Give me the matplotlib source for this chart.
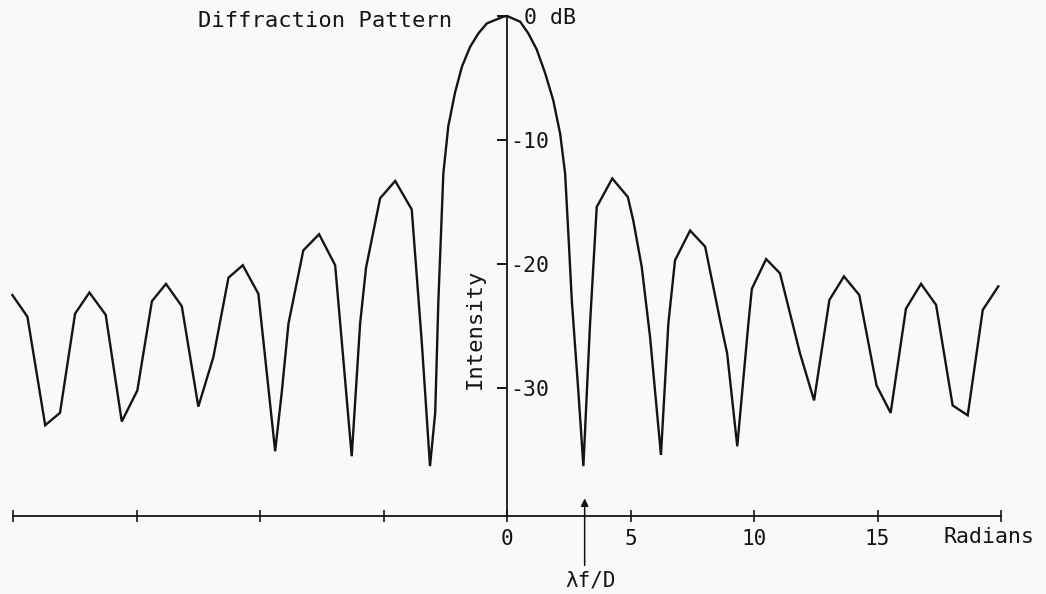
import numpy as np
import matplotlib
matplotlib.use("Agg")
import matplotlib.pyplot as plt

# values (radians, dB)
angle_rad = [
    -20.03, -19.42, -18.70, -18.10, -17.49, -16.91, -16.25, -15.60, -14.97,
    -14.38, -13.81, -13.17, -12.50, -11.89, -11.28, -10.70, -10.07, -9.39,
    -9.12, -8.85, -8.25, -7.61, -6.96, -6.29, -5.95, -5.71, -5.14, -4.53,
    -3.86, -3.45, -3.12, -2.91, -2.78, -2.58, -2.38, -2.11, -1.83, -1.50,
    -1.16, -0.82, -0.15, 0.00, 0.53, 0.86, 1.20, 1.54, 1.87, 2.15, 2.35,
    2.48, 2.62, 2.89, 3.09, 3.36, 3.63, 4.26, 4.89, 5.11, 5.45, 5.79, 6.23,
    6.53, 6.80, 7.41, 8.02, 8.62, 8.91, 9.32, 9.77, 9.91, 10.49, 11.05,
    11.86, 12.43, 13.05, 13.64, 14.26, 14.96, 15.53, 16.15, 16.76, 17.37,
    18.04, 18.65, 19.26, 19.89,
]
intensity_db = [
    -22.5, -24.25, -33.0, -32.0, -24.0, -22.3, -24.1, -32.7, -30.2,
    -23.0, -21.6, -23.4, -31.5, -27.5, -21.1, -20.1, -22.4, -35.1,
    -30.3, -24.8, -18.9, -17.6, -20.1, -35.5, -24.8, -20.3, -14.7, -13.3,
    -15.6, -26.4, -36.3, -32.0, -22.9, -12.7, -8.9, -6.2, -4.1, -2.5,
    -1.4, -0.6, -0.05, 0.0, -0.46, -1.4, -2.7, -4.6, -6.8, -9.5, -12.7,
    -17.5, -22.9, -30.4, -36.3, -24.8, -15.4, -13.1, -14.6, -16.5, -20.2, -25.9, -35.4,
    -24.8, -19.7, -17.3, -18.6, -24.5, -27.2, -34.7, -24.8, -22.0, -19.6, -20.75,
    -27.2, -31.0, -22.9, -21.0, -22.5, -29.8, -32.0, -23.6, -21.6, -23.3,
    -31.4, -32.2, -23.7, -21.8,
]

x_ticks = [-20, -15, -10, -5, 0, 5, 10, 15, 20]
x_tick_labels = ["", "", "", "", "0", "5", "10", "15", ""]
y_ticks = [0, -10, -20, -30]
y_tick_labels = [" 0 dB", "-10", "-20", "-30"]
axis_floor = -40.3
lambda_f_d = np.pi

plt.rcParams["font.family"] = ["DejaVu Sans Mono", "DejaVu Sans"]
ink = "#141414"

fig = plt.figure(figsize=(10.46, 5.94), dpi=100, facecolor="#f9f9f8")
ax = fig.add_axes([0, 0, 1, 1])
ax.set_facecolor("#f9f9f8")
ax.set_xlim(-20.53, 21.82)
ax.set_ylim(-46.61, 1.29)

ax.plot(angle_rad, intensity_db, color=ink, lw=1.7, solid_joinstyle="miter")

# axes drawn through the origin, like the hand-made original
for side in ["left", "top"]:
    ax.spines[side].set_visible(False)
ax.spines["right"].set_position(("data", 0))
ax.spines["right"].set_bounds(axis_floor, 0)
ax.spines["bottom"].set_position(("data", axis_floor))
ax.spines["bottom"].set_bounds(-20, 20)
for side in ["right", "bottom"]:
    ax.spines[side].set_color(ink)
    ax.spines[side].set_linewidth(1.3)

ax.yaxis.tick_right()
ax.set_yticks(y_ticks)
ax.set_yticklabels(y_tick_labels)
ax.tick_params(axis="y", direction="in", length=7.5, width=1.4, pad=2.5,
               labelsize=15.5, colors=ink)
ax.set_xticks(x_ticks)
ax.set_xticklabels(x_tick_labels)
ax.tick_params(axis="x", direction="inout", length=9, width=1.2, pad=5,
               labelsize=15, colors=ink)

ax.text(-2.23, -0.4, "Diffraction Pattern", ha="right", va="center",
        fontsize=16, color=ink)
ax.text(-1.30, -25.2, "Intensity", rotation=90, ha="center", va="center",
        fontsize=16, color=ink)
ax.text(17.69, -42.0, "Radians", ha="left", va="center", fontsize=15.5,
        color=ink)

# lambda f / D marker
ax.annotate("", xy=(lambda_f_d, -38.9), xytext=(lambda_f_d, -44.3),
            arrowprops=dict(arrowstyle="-|>", color=ink, lw=1.1,
                            mutation_scale=11, shrinkA=0, shrinkB=0))
ax.text(lambda_f_d + 0.25, -45.5, "λf/D", ha="center", va="center",
        fontsize=15, color=ink)

fig.savefig("out.png", dpi=100, facecolor=fig.get_facecolor())
